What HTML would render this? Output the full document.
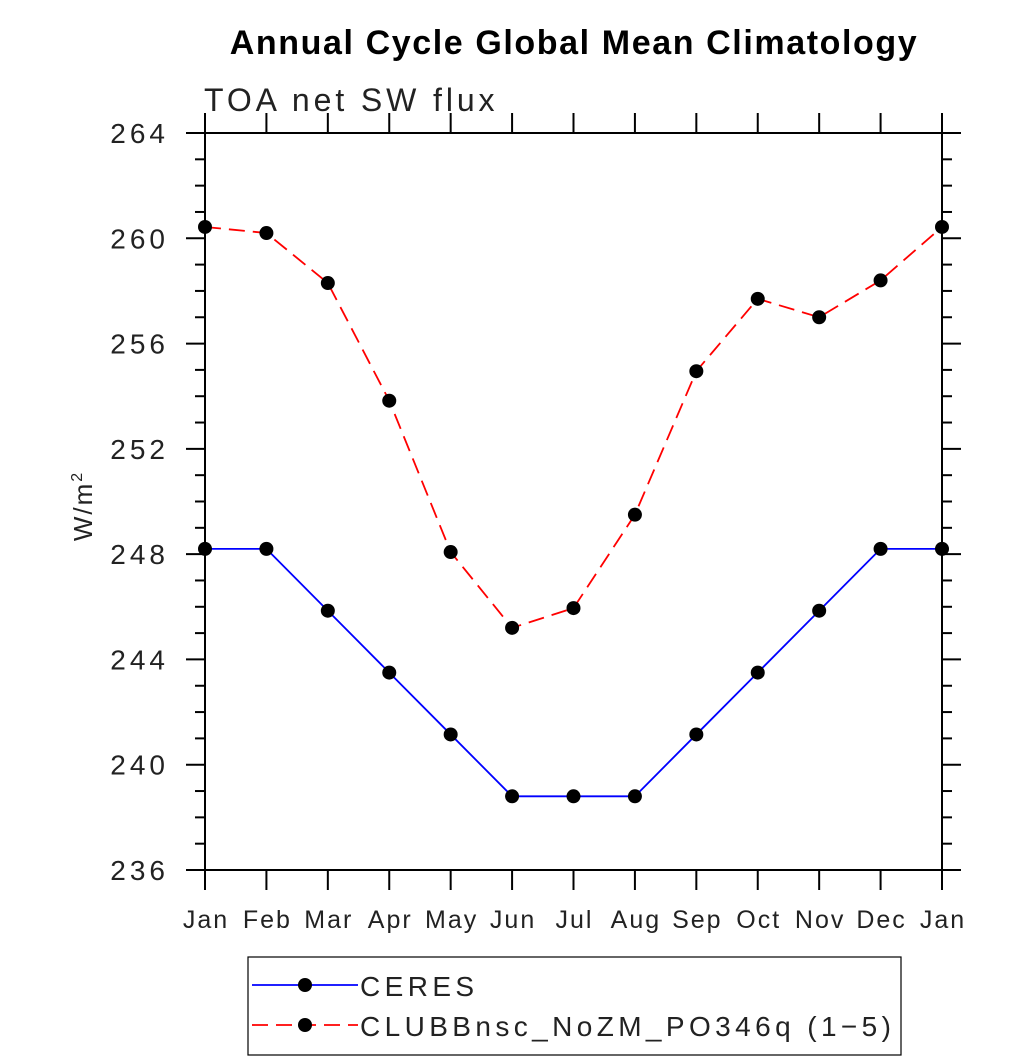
<!DOCTYPE html>
<html><head><meta charset="utf-8"><style>
body{margin:0;background:#fff;}
svg{display:block;font-family:"Liberation Sans",sans-serif;}
</style></head><body>
<svg id="chart" width="1030" height="1061">
<text x="574" y="54" text-anchor="middle" font-size="34" font-weight="bold" letter-spacing="1.6">Annual Cycle Global Mean Climatology</text>
<text x="204" y="111" font-size="32" fill="#222" letter-spacing="3.9">TOA net SW flux</text>
<text transform="translate(92,506) rotate(-90)" text-anchor="middle" font-size="26" fill="#222" letter-spacing="2">W/m<tspan dy="-10" font-size="16">2</tspan></text>
<g id="axes"></g>
<g id="series"></g>
<g>
<rect x="248" y="957" width="653" height="98" fill="none" stroke="#000" stroke-width="1.2"/>
<line x1="252" y1="985" x2="358" y2="985" stroke="#00f" stroke-width="1.8"/>
<circle cx="305" cy="985" r="7"/>
<text x="360" y="996" font-size="28" fill="#222" letter-spacing="4.4">CERES</text>
<line x1="252" y1="1025" x2="358" y2="1025" stroke="#f00" stroke-width="1.8" stroke-dasharray="16,8"/>
<circle cx="305" cy="1025" r="7"/>
<text x="360" y="1036" font-size="28" fill="#222" letter-spacing="4.4">CLUBBnsc_NoZM_PO346q (1−5)</text>
</g>
</svg>
<script>
const months=["Jan","Feb","Mar","Apr","May","Jun","Jul","Aug","Sep","Oct","Nov","Dec","Jan"];
const ceres=[248.2,248.2,245.85,243.5,241.15,238.8,238.8,238.8,241.15,243.5,245.85,248.2,248.2];
const model=[260.43,260.2,258.3,253.83,248.08,245.2,245.95,249.5,254.95,257.7,257.0,258.4,260.43];
const yTicks=[236,240,244,248,252,256,260,264];
const NS="http://www.w3.org/2000/svg";
const X0=205,X1=942,Y0=870,Y1=133,YMIN=236,YMAX=264;
const xs=i=>X0+(X1-X0)*i/(months.length-1);
const ys=v=>Y0-(v-YMIN)/(YMAX-YMIN)*(Y0-Y1);
function mk(t,a,p){const e=document.createElementNS(NS,t);for(const k in a)e.setAttribute(k,a[k]);p.appendChild(e);return e;}
const ax=document.getElementById('axes');
const fr=mk('rect',{x:X0,y:Y1,width:X1-X0,height:Y0-Y1,fill:'none',stroke:'#000','stroke-width':2},ax);


for(let v=YMIN;v<=YMAX;v++){const y=ys(v);const maj=(v-YMIN)%4===0;const L=maj?19:10;
mk('line',{x1:X0-L,y1:y,x2:X0,y2:y,stroke:'#000','stroke-width':2},ax);
mk('line',{x1:X1,y1:y,x2:X1+L,y2:y,stroke:'#000','stroke-width':2},ax);}
yTicks.forEach(v=>{const t=mk('text',{x:169,y:ys(v)+10,'text-anchor':'end','font-size':28,fill:'#222','letter-spacing':4},ax);t.textContent=v;

});
months.forEach((m,i)=>{const x=xs(i);
mk('line',{x1:x,y1:Y1-20,x2:x,y2:Y1,stroke:'#000','stroke-width':2},ax);
mk('line',{x1:x,y1:Y0,x2:x,y2:Y0+20,stroke:'#000','stroke-width':2},ax);
const t=mk('text',{x:x+1,y:928,'text-anchor':'middle','font-size':25,fill:'#222','letter-spacing':2},ax);t.textContent=m;

});
const sg=document.getElementById('series');
function series(vals,color,dash,name){
const p=mk('polyline',{points:vals.map((v,i)=>xs(i)+','+ys(v)).join(' '),fill:'none',stroke:color,'stroke-width':1.8,'stroke-dasharray':dash},sg);


vals.forEach((v,i)=>{const c=mk('circle',{cx:xs(i),cy:ys(v),r:7,fill:'#000'},sg);

});}
series(ceres,'#00f','none','ceres');
series(model,'#f00','16,8','model');
</script>
</body></html>
